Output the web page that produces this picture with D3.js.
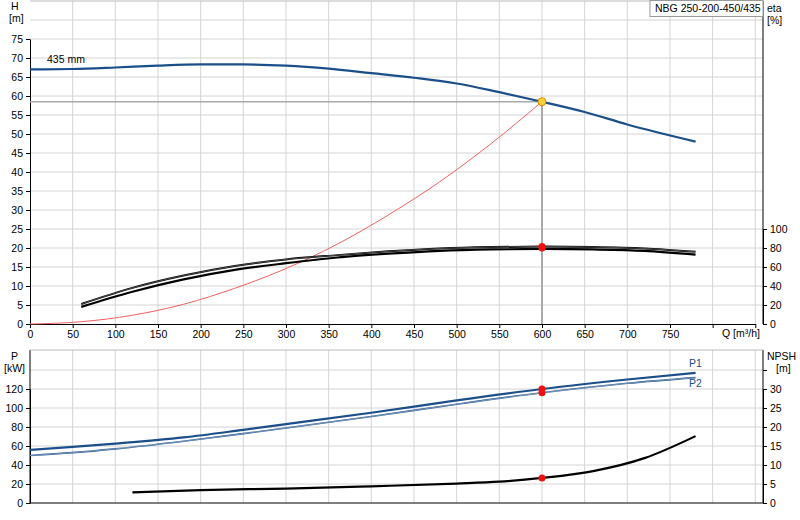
<!DOCTYPE html>
<html><head><meta charset="utf-8">
<script src="https://cdn.jsdelivr.net/npm/d3@7"></script>
<style>body{margin:0;background:#fff}text{font-family:"Liberation Sans",Arial,sans-serif;font-size:10.5px}</style>
</head><body><svg id="c" width="800" height="520"></svg>
<script>
var headQ = [0, 50, 100, 150, 200, 250, 300, 350, 400, 450, 500, 550, 600, 650, 700, 780],
    headH = [67, 67.1, 67.5, 68, 68.3, 68.3, 68, 67.2, 66, 64.8, 63.3, 61, 58.5, 55.8, 52.5, 48];
var sysQ = [0, 60, 120, 180, 240, 300, 360, 420, 480, 540, 600],
    sysH = [0, 0.6, 2.3, 5.2, 9.4, 14.6, 21, 28.7, 37.4, 47.4, 58.5];
var etaQ = [60, 120, 180, 240, 300, 360, 420, 480, 540, 600, 660, 720, 780],
    etaA = [21, 38, 51, 61, 68, 72.5, 76.5, 79.5, 81, 81.5, 81, 79.5, 76],
    etaB = [18, 34, 47, 57, 64, 70, 74, 77, 78.5, 79, 78.5, 77, 73];
var powQ = [0, 50, 100, 180, 250, 300, 400, 500, 600, 700, 780],
    p1 = [56, 59, 62.5, 69, 77, 83, 95, 108, 120, 130, 137],
    p2 = [50, 53, 57, 65, 73, 79, 91, 104, 116, 126, 132];
var npshQ = [120, 200, 300, 400, 500, 550, 600, 660, 720, 780],
    npsh = [2.8, 3.4, 3.8, 4.4, 5.1, 5.6, 6.6, 8.4, 11.8, 17.6];
var dutyQ = 600, dutyH = 58.5, dutyEta = [81.5, 80], dutyP = [120, 116], dutyNpsh = 6.6;

var svg = d3.select("#c"), grid = "#d4d4d4";
var x = d3.scaleLinear().domain([0, 850]).range([30, 755.3]);
var yH = d3.scaleLinear().domain([0, 75]).range([324, 39]);
var yE = d3.scaleLinear().domain([0, 100]).range([324, 229]);
var yP = d3.scaleLinear().domain([0, 120]).range([503, 389]);
var yN = d3.scaleLinear().domain([0, 30]).range([503, 389]);
var L = 30, R = 763;

function vgrid(top, bot) {
  svg.append("g").selectAll("line").data(d3.range(50, 851, 50)).enter().append("line")
     .attr("x1", x).attr("x2", x).attr("y1", top).attr("y2", bot).attr("stroke", grid);
}
function hgrid(ticks, s) {
  svg.append("g").selectAll("line").data(ticks).enter().append("line")
     .attr("x1", L).attr("x2", R).attr("y1", s).attr("y2", s).attr("stroke", grid);
}
// top panel
vgrid(1, 324); hgrid(d3.range(5, 81, 5), yH);
svg.append("line").attr("x1", L).attr("x2", R).attr("y1", 1).attr("y2", 1).attr("stroke", "#bbb");
svg.append("g").attr("transform", "translate(" + L + ",0)")
   .call(d3.axisLeft(yH).tickValues(d3.range(0, 76, 5)).tickSize(4).tickSizeOuter(0));
svg.append("g").attr("transform", "translate(" + R + ",0)")
   .call(d3.axisRight(yE).tickValues(d3.range(0, 101, 20)).tickSize(4).tickSizeOuter(0));
svg.append("line").attr("x1", R).attr("x2", R).attr("y1", 1).attr("y2", 324).attr("stroke", "#000");
svg.append("g").attr("transform", "translate(0,324)")
   .call(d3.axisBottom(x).tickValues(d3.range(0, 851, 50)).tickSize(4).tickSizeOuter(0)
   .tickFormat(function (d) { return d <= 750 ? d : ""; }));
svg.selectAll(".domain").attr("stroke", "#000");
svg.selectAll(".tick text").style("font-size", "10.5px");
svg.append("text").attr("x", 722).attr("y", 337).text("Q [m³/h]");
svg.append("text").attr("x", 11).attr("y", 10).text("H");
svg.append("text").attr("x", 9).attr("y", 22).text("[m]");
svg.append("text").attr("x", 767).attr("y", 12).text("eta");
svg.append("text").attr("x", 767).attr("y", 24).text("[%]");
svg.append("rect").attr("x", 650).attr("y", 0.5).attr("width", 113).attr("height", 16)
   .attr("fill", "#fff").attr("stroke", "#999");
svg.append("text").attr("x", 655).attr("y", 12).text("NBG 250-200-450/435");
svg.append("text").attr("x", 47).attr("y", 63).text("435 mm");

function curve(qs, vs, ys, col, w) {
  svg.append("path").datum(d3.zip(qs, vs)).attr("fill", "none").attr("stroke", col)
     .attr("stroke-width", w)
     .attr("d", d3.line().curve(d3.curveMonotoneX).x(function (d) { return x(d[0]); }).y(function (d) { return ys(d[1]); }));
}
// duty lines
svg.append("line").attr("x1", L).attr("x2", x(dutyQ)).attr("y1", yH(dutyH)).attr("y2", yH(dutyH)).attr("stroke", "#aaa").attr("stroke-width", 1.5);
svg.append("line").attr("x1", x(dutyQ)).attr("x2", x(dutyQ)).attr("y1", yH(dutyH)).attr("y2", 324).attr("stroke", "#aaa").attr("stroke-width", 2);
curve(sysQ, sysH, yH, "#f26060", 1);
curve(headQ, headH, yH, "#1b4f8a", 2.2);
curve(etaQ, etaA, yE, "#000", 2); curve(etaQ, etaA, yE, "#999", 0.5);
curve(etaQ, etaB, yE, "#000", 2.2);
svg.append("circle").attr("cx", x(dutyQ)).attr("cy", yH(dutyH)).attr("r", 4).attr("fill", "#ffd23c").attr("stroke", "#e08a00");
svg.selectAll(".de").data(dutyEta).enter().append("circle").attr("cx", x(dutyQ)).attr("cy", yE).attr("r", 3.5).attr("fill", "#f01010");

// bottom panel
vgrid(350, 503); hgrid(d3.range(20, 141, 20), yP);
svg.append("g").attr("transform", "translate(" + L + ",0)")
   .call(d3.axisLeft(yP).tickValues(d3.range(0, 121, 20)).tickSize(4).tickSizeOuter(0));
svg.append("g").attr("transform", "translate(" + R + ",0)")
   .call(d3.axisRight(yN).tickValues(d3.range(0, 36, 5)).tickSize(4).tickSizeOuter(0).tickFormat(function (d) { return d <= 30 ? d : ""; }));
svg.append("line").attr("x1", L).attr("x2", L).attr("y1", 350).attr("y2", 503).attr("stroke", "#000");
svg.append("line").attr("x1", R).attr("x2", R).attr("y1", 350).attr("y2", 503).attr("stroke", "#000");
svg.append("line").attr("x1", L).attr("x2", R).attr("y1", 503).attr("y2", 503).attr("stroke", "#000");
svg.append("line").attr("x1", L).attr("x2", R).attr("y1", 350).attr("y2", 350).attr("stroke", "#bbb");
svg.selectAll(".domain").attr("stroke", "#000");
svg.selectAll(".tick text").style("font-size", "10.5px");
svg.append("text").attr("x", 11).attr("y", 360).text("P");
svg.append("text").attr("x", 4).attr("y", 372).text("[kW]");
svg.append("text").attr("x", 767).attr("y", 360).text("NPSH");
svg.append("text").attr("x", 776).attr("y", 372).text("[m]");
curve(powQ, p1, yP, "#1b4f8a", 2.2);
curve(powQ, p2, yP, "#1b4f8a", 1.6); curve(powQ, p2, yP, "#fff", 0.4);
curve(npshQ, npsh, yN, "#000", 2.2);
svg.append("text").attr("x", 689).attr("y", 367).attr("fill", "#1b4f8a").text("P1");
svg.append("text").attr("x", 689).attr("y", 387).attr("fill", "#1b4f8a").text("P2");
svg.selectAll(".dp").data(dutyP).enter().append("circle").attr("cx", x(dutyQ)).attr("cy", yP).attr("r", 3.5).attr("fill", "#f01010");
svg.append("circle").attr("cx", x(dutyQ)).attr("cy", yN(dutyNpsh)).attr("r", 3.5).attr("fill", "#f01010");
</script></body></html>
